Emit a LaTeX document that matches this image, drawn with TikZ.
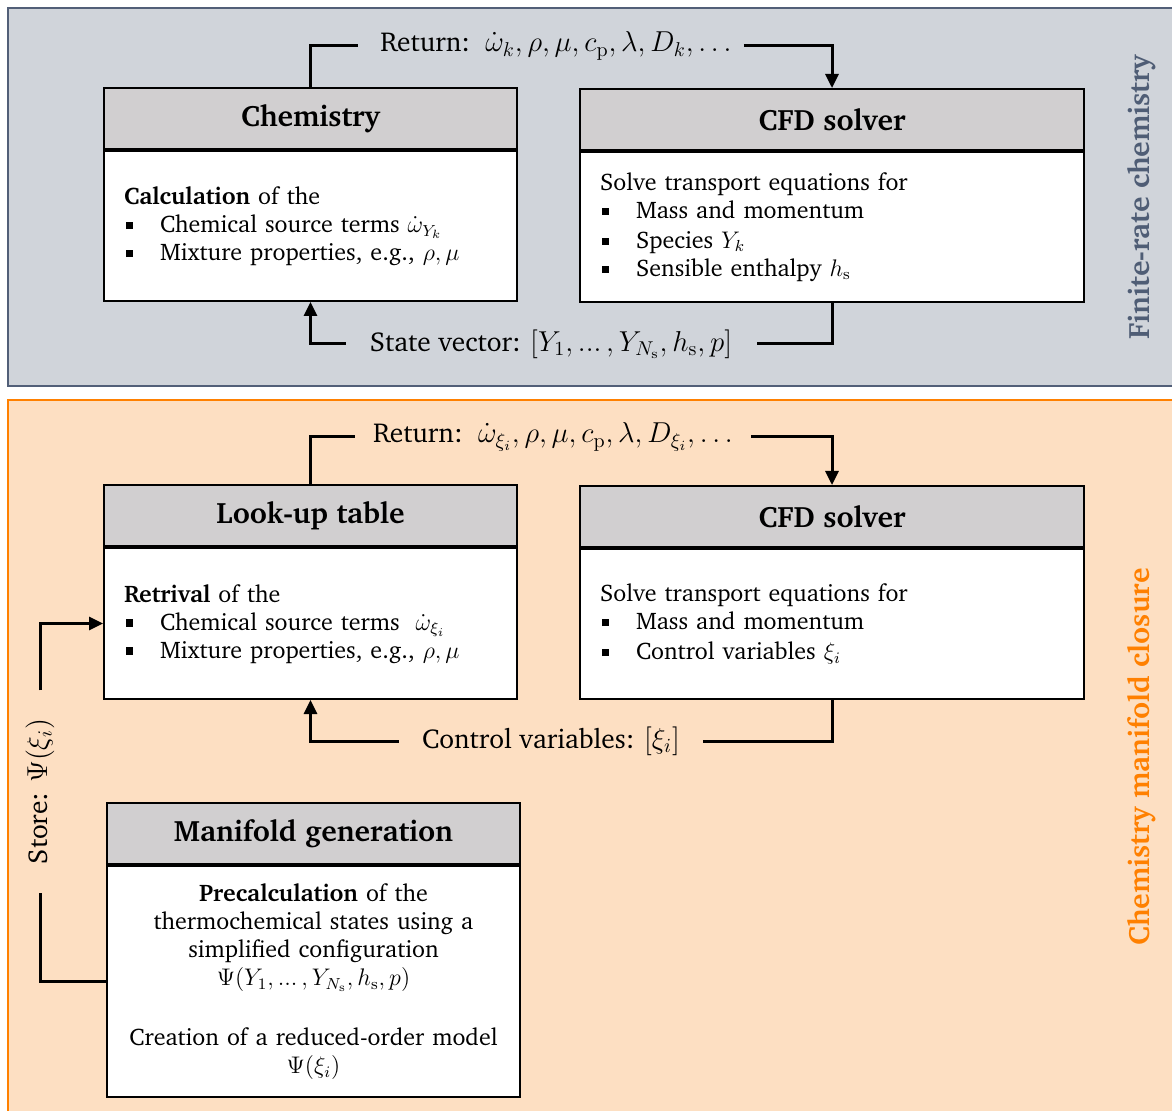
\documentclass[tikz,border=0pt]{standalone}
\usepackage[T1]{fontenc}
\usepackage{charter}
\usetikzlibrary{arrows.meta}
\definecolor{grayfill}{RGB}{208,212,218}
\definecolor{grayedge}{RGB}{82,95,120}
\definecolor{orfill}{RGB}{253,223,194}
\definecolor{oredge}{RGB}{255,128,0}
\definecolor{hdrfill}{RGB}{209,207,208}
\definecolor{sidegray}{RGB}{79,93,117}
\newcommand{\bul}{\makebox[18pt][l]{\hspace{1pt}\raisebox{0.3ex}{\rule{3.6pt}{3.6pt}}}}
\newcommand{\hd}[1]{\raisebox{-1.5pt}{#1}}
\tikzset{
  hdr/.style={draw, line width=1pt, fill=hdrfill, anchor=north west, minimum height=30.5pt,
    font=\bfseries\fontsize{14.75}{17}\selectfont, inner sep=0pt},
  bodybox/.style={draw, line width=1pt, fill=white, anchor=north, inner xsep=10pt, inner ysep=0pt,
    font=\fontsize{12}{14}\selectfont, align=left},
  conn/.style={line width=1.5pt, black},
  arr/.style={-{Triangle[length=7pt,width=6.5pt]}},
  lbl/.style={font=\fontsize{13.7}{16}\selectfont, inner ysep=1pt},
  side/.style={rotate=90, font=\bfseries\fontsize{14.75}{17}\selectfont}
}
\begin{document}
\begin{tikzpicture}[x=0.5pt, y=-0.5pt]
\useasboundingbox (0,0) rectangle (1172,1111);
\clip (0,0) rectangle (1172,1111);
% panels
\draw[line width=1.2pt, draw=grayedge, fill=grayfill] (8,8) rectangle (1185,386);
\draw[line width=1.2pt, draw=oredge, fill=orfill] (8,400) rectangle (1185,1125);
\node[side, text=sidegray] (sideA) at (1141,197) {Finite-rate chemistry};
\node[side, text=oredge] (sideB) at (1141,757) {Chemistry manifold closure};

% ---- top panel
\node[hdr, minimum width=206.5pt] (chemH) at (103,87) {\hd{Chemistry}};
\node[bodybox, text width=186.5pt, minimum height=75pt] (chem) at (chemH.south) {%
\textbf{Calculation} of the\\
\bul Chemical source terms $\dot{\omega}_{Y_k}$\\
\bul Mixture properties, e.g., $\rho, \mu$};

\node[hdr, minimum width=252pt] (cfdAH) at (579,88) {\hd{CFD solver}};
\node[bodybox, text width=232pt, minimum height=75pt] (cfdA) at (cfdAH.south) {%
Solve transport equations for\\
\bul Mass and momentum\\[1pt]
\bul Species $Y_k$\\
\bul Sensible enthalpy $h_\mathrm{s}$};

\node[lbl, inner xsep=6pt] (retA) at (551,46) {\hspace{5pt}Return:\ \ $\dot{\omega}_k, \rho, \mu, c_\mathrm{p}, \lambda, D_k, \dots$};
\draw[conn] (chemH.north) |- (retA.west);
\draw[conn, arr] (retA.east) -| (cfdAH.north);

\node[lbl, inner xsep=12pt] (sv) at (551,344) {State vector: $[Y_1, {.}{.}{.}\,, Y_{N_\mathrm{s}}, h_\mathrm{s}, p]$};
\draw[conn] (cfdA.south) |- (sv.east);
\draw[conn, arr] (sv.west) -| (chem.south);

% ---- bottom panel
\node[hdr, minimum width=206.5pt] (lutH) at (103,484) {\hd{Look-up table}};
\node[bodybox, text width=186.5pt, minimum height=75.5pt] (lut) at (lutH.south) {%
\textbf{Retrival} of the\\
\bul Chemical source terms \ $\dot{\omega}_{\xi_i}$\\
\bul Mixture properties, e.g., $\rho, \mu$};

\node[hdr, minimum width=252pt] (cfdBH) at (579,485) {\hd{CFD solver}};
\node[bodybox, text width=232pt, minimum height=75pt] (cfdB) at (cfdBH.south) {%
Solve transport equations for\\
\bul Mass and momentum\\[1pt]
\bul Control variables $\xi_i$};

\node[lbl, inner xsep=9pt] (retB) at (553,437) {Return:\ \ $\dot{\omega}_{\xi_i}, \rho, \mu, c_\mathrm{p}, \lambda, D_{\xi_i}, \dots$};
\draw[conn] (lutH.north) |- (retB.west);
\draw[conn, arr] (retB.east) -| (cfdBH.north);

\node[lbl, inner xsep=11.5pt] (cv) at (551,741) {Control variables: $[\xi_i]$};
\draw[conn] (cfdB.south) |- (cv.east);
\draw[conn, arr] (cv.west) -| (lut.south);

\node[hdr, minimum width=206.5pt] (manH) at (106,802) {\hd{Manifold generation}};
\node[bodybox, text width=186.5pt, minimum height=115.5pt, align=center] (man) at (manH.south) {%
\textbf{Precalculation} of the\\
thermochemical states using a\\
simplified configuration\\
$\Psi(Y_1, {.}{.}{.}\,, Y_{N_\mathrm{s}}, h_\mathrm{s}, p)$\\[16pt]
Creation of a reduced-order model\\
$\Psi(\xi_i)$};

\node[lbl, rotate=90, inner xsep=14pt] (store) at (40,791.5) {Store: $\Psi(\xi_i)$\hspace{5pt}};
\draw[conn] (man.west) -| (store.west);
\draw[conn, arr] (store.east) |- (lut.west);
\end{tikzpicture}
\end{document}
